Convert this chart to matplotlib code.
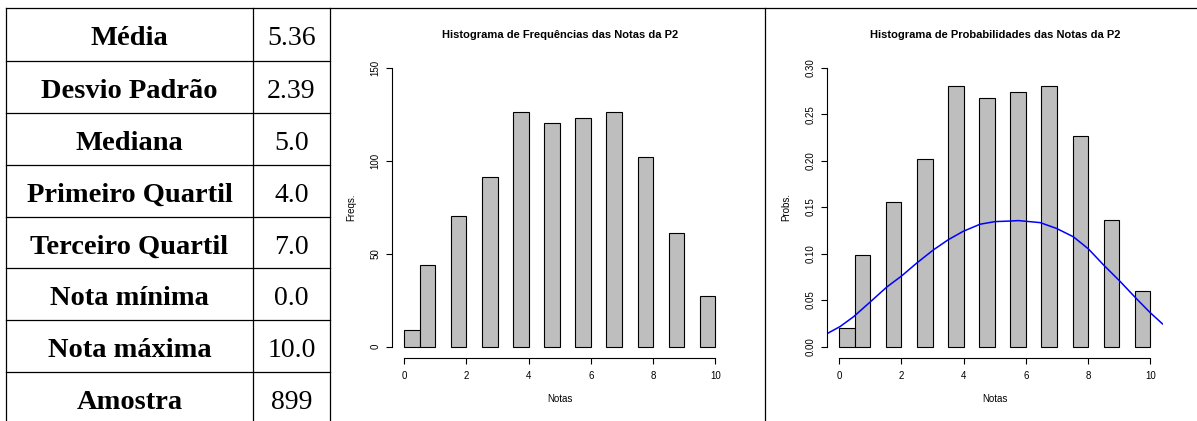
import matplotlib
matplotlib.use("Agg")
import matplotlib.pyplot as plt
from matplotlib.lines import Line2D

# estatisticas da tabela
stat_names = ["Média", "Desvio Padrão", "Mediana", "Primeiro Quartil",
              "Terceiro Quartil", "Nota mínima", "Nota máxima", "Amostra"]
stat_values = ["5.36", "2.39", "5.0", "4.0", "7.0", "0.0", "10.0", "899"]

# histograma (classes de largura 0.5)
bin_left = [0, 0.5, 1.5, 2.5, 3.5, 4.5, 5.5, 6.5, 7.5, 8.5, 9.5]
bin_width = 0.5
freqs = [9, 44, 70, 91, 126, 120, 123, 126, 102, 61, 27]
probs = [0.020, 0.098, 0.156, 0.202, 0.280, 0.267, 0.274, 0.280, 0.227, 0.136, 0.060]

# curva azul
curve_x = [-0.42, 0.03, 0.46, 1.0, 1.53, 2.01, 2.5, 3.03, 3.51, 3.99, 4.53, 5.01,
           5.49, 5.76, 6.46, 6.99, 7.53, 8.01, 8.49, 9.03, 9.51, 9.99, 10.39]
curve_y = [0.0133, 0.0215, 0.032, 0.048, 0.064, 0.076, 0.090, 0.104, 0.115, 0.124,
           0.1316, 0.1344, 0.135, 0.1355, 0.1333, 0.127, 0.118, 0.105, 0.088, 0.070,
           0.053, 0.0366, 0.0244]

W, H = 1197, 421
fig = plt.figure(figsize=(W / 100, H / 100), dpi=100)


def px(x, y):
    return x / W, 1 - y / H


def line(x0, y0, x1, y1, lw=0.9):
    a = px(x0, y0)
    b = px(x1, y1)
    fig.add_artist(Line2D([a[0], b[0]], [a[1], b[1]], color="black", lw=lw))


# linhas da tabela e separadores
line(6, 8, W, 8)
for xv in [6, 253, 330, 765]:
    line(xv, 8, xv, H)
row_tops = [8, 61, 113, 165, 217, 268, 320, 372]
for yv in row_tops[1:]:
    line(6, yv, 330, yv)

for i in range(len(stat_names)):
    bx, by = px(129.5, row_tops[i] + 37)
    fig.text(bx, by, stat_names[i], ha="center", va="baseline",
             family="Liberation Serif", weight="bold", fontsize=20.5)
    vx, vy = px(291.5, row_tops[i] + 37)
    fig.text(vx, vy, stat_values[i], ha="center", va="baseline",
             family="Liberation Serif", fontsize=20)


def r_axes(left, right, top, bottom):
    l, b = px(left, bottom)
    r, t = px(right, top)
    ax = fig.add_axes([l, b, r - l, t - b])
    for s in ["top", "right"]:
        ax.spines[s].set_visible(False)
    ax.spines["left"].set_linewidth(0.8)
    ax.spines["bottom"].set_linewidth(0.8)
    ax.tick_params(direction="out", length=4.3, width=0.8, labelsize=7,
                   colors="black")
    ax.tick_params(axis="x", pad=5.5)
    ax.tick_params(axis="y", pad=4, labelrotation=90)
    ax.set_xlim(-0.4, 10.4)
    ax.set_xticks([0, 2, 4, 6, 8, 10])
    ax.spines["bottom"].set_bounds(0, 10)
    return ax


plt.rcParams["font.family"] = ["Liberation Sans", "DejaVu Sans"]

# histograma de frequencias
ax1 = r_axes(391.7, 727.8, 56.5, 357.7)
ax1.bar(bin_left, freqs, width=bin_width, align="edge", color="#bebebe",
        edgecolor="black", linewidth=0.8)
ax1.set_ylim(-6, 156)
ax1.set_yticks([0, 50, 100, 150])
ax1.spines["left"].set_bounds(0, 150)
for lab in ax1.get_yticklabels():
    lab.set_va("center")
ax1.set_title("Histograma de Frequências das Notas da P2", fontsize=8,
              weight="bold", pad=13.5)
ax1.set_xlabel("Notas", fontsize=7, labelpad=9)
ax1.set_ylabel("Freqs.", fontsize=7, labelpad=10)

# histograma de probabilidades
ax2 = r_axes(826.7, 1162.8, 56.5, 357.7)
ax2.bar(bin_left, probs, width=bin_width, align="edge", color="#bebebe",
        edgecolor="black", linewidth=0.8)
ax2.plot(curve_x, curve_y, color="blue", lw=1.1)
ax2.set_ylim(-0.012, 0.312)
ax2.set_yticks([0, 0.05, 0.10, 0.15, 0.20, 0.25, 0.30])
ax2.set_yticklabels(["0.00", "0.05", "0.10", "0.15", "0.20", "0.25", "0.30"])
ax2.spines["left"].set_bounds(0, 0.30)
for lab in ax2.get_yticklabels():
    lab.set_va("center")
ax2.set_title("Histograma de Probabilidades das Notas da P2", fontsize=8,
              weight="bold", pad=13.5)
ax2.set_xlabel("Notas", fontsize=7, labelpad=9)
ax2.set_ylabel("Probs.", fontsize=7, labelpad=10)

fig.savefig("out.png", dpi=100)
